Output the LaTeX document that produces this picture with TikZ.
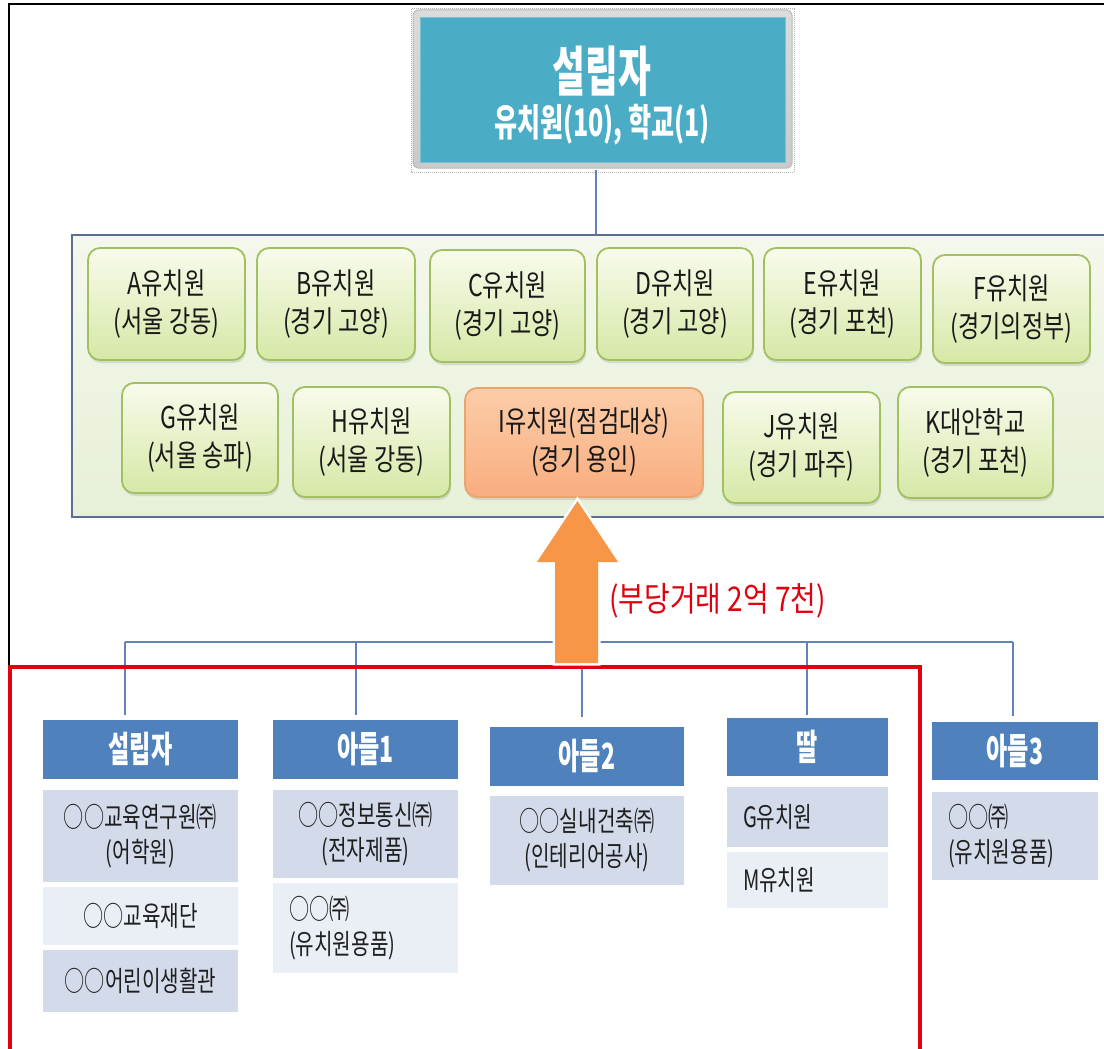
\documentclass[tikz,border=0pt]{standalone}
\usepackage{fontspec}
\usetikzlibrary{shadows}
\newfontfamily\kr[FakeStretch=0.77]{Noto Sans CJK KR}
\newfontfamily\krl[FakeStretch=0.82]{Noto Sans CJK KR}
\newfontfamily\krn[FakeStretch=0.72]{Noto Sans CJK KR}
\newfontfamily\krh[FakeStretch=0.64]{Noto Sans CJK KR}
\newfontfamily\krt[FakeStretch=0.66]{Noto Sans CJK KR}
\definecolor{tblue}{HTML}{4BACC6}
\definecolor{gborder}{HTML}{A2C062}
\definecolor{gtop}{HTML}{F8FBEC}
\definecolor{gbot}{HTML}{D6E8A6}
\definecolor{oborder}{HTML}{E8A56E}
\definecolor{otop}{HTML}{FCCDA8}
\definecolor{obot}{HTML}{F8AD7F}
\definecolor{arrowc}{HTML}{F79646}
\definecolor{hblue}{HTML}{4F81BD}
\definecolor{rowdark}{HTML}{D3DAEA}
\definecolor{rowlight}{HTML}{EAEEF5}
\definecolor{conc}{HTML}{6282B8}
\definecolor{contborder}{HTML}{5A6F93}
\definecolor{ctop}{HTML}{F4F8EC}
\definecolor{cbot}{HTML}{E7F0D8}
\definecolor{redc}{HTML}{E0000F}
\tikzset{
  gnode/.style={draw=gborder, line width=1.8pt, rounded corners=12pt,
    top color=gtop, bottom color=gbot,
    drop shadow={opacity=0.22, shadow xshift=1pt, shadow yshift=-3pt},
    font=\kr\fontsize{30}{38}\selectfont, align=center, inner sep=0pt, text=black!90},
  onode/.style={gnode, draw=oborder, top color=otop, bottom color=obot},
  hdr/.style={fill=hblue, text=white, font=\krh\bfseries\fontsize{36}{40}\selectfont, inner sep=0pt},
  rdark/.style={fill=rowdark, font=\krn\fontsize{28}{35}\selectfont, align=center, inner sep=0pt, text=black!88},
  rlight/.style={rdark, fill=rowlight},
  lft/.style={inner xsep=16pt, text width=#1, align=left},
  conn/.style={draw=conc, line width=2.5pt},
}
\begin{document}
\begin{tikzpicture}[x=1pt,y=-1pt]
\useasboundingbox (0,0) rectangle (1104,1049);
\fill[white] (0,0) rectangle (1104,1049);
% outer black frame
\draw[line width=2.5pt] (9,667) -- (9,4) -- (1110,4);
% top box
\draw[gray!60, densely dotted, line width=1pt] (411,9) rectangle (794,172);
\node[draw=gray!55, line width=1pt, rounded corners=5pt, top color=gray!28, bottom color=gray!42,
  minimum width=379, minimum height=158] (topo) at (602.5,89) {};
\node[fill=tblue, draw=tblue!75!white, line width=1pt, minimum width=365, minimum height=144] (topi) at (602.5,90) {};
\node[text=white, font=\krt\bfseries\fontsize{54}{58}\selectfont] (tt1) at (602,71) {설립자};
\node[text=white, font=\krt\bfseries\fontsize{38}{42}\selectfont] (tt2) at (602,125) {유치원(10), 학교(1)};
% container
\node[draw=contborder, line width=2.5pt, top color=ctop, bottom color=cbot, inner sep=0pt,
  minimum width=1046, minimum height=282] (cont) at (595,376) {};
\coordinate (tc) at (596,170);
\draw[conn] (tc) -- (tc |- cont.north);
% row 1
\node[gnode, minimum width=157, minimum height=112] (A) at (166.5,304) {A유치원\\(서울 강동)};
\node[gnode, minimum width=158, minimum height=112] (B) at (336,304) {B유치원\\(경기 고양)};
\node[gnode, minimum width=155, minimum height=112] (C) at (507.5,306) {C유치원\\(경기 고양)};
\node[gnode, minimum width=156, minimum height=112] (D) at (675,304) {D유치원\\(경기 고양)};
\node[gnode, minimum width=157, minimum height=112] (E) at (842.5,304) {E유치원\\(경기 포천)};
\node[gnode, minimum width=157, minimum height=108] (F) at (1011.5,309) {F유치원\\(경기의정부)};
% row 2
\node[gnode, minimum width=156, minimum height=110] (G) at (200,438) {G유치원\\(서울 송파)};
\node[gnode, minimum width=157, minimum height=110] (H) at (371.5,442) {H유치원\\(서울 강동)};
\node[onode, minimum width=238, minimum height=109] (I) at (584,442.5) {I유치원(점검대상)\\(경기 용인)};
\node[gnode, minimum width=157, minimum height=111] (J) at (801.5,447.5) {J유치원\\(경기 파주)};
\node[gnode, minimum width=155, minimum height=111] (K) at (975.5,442.5) {K대안학교\\(경기 포천)};
% lower headers
\node[hdr, minimum width=195, minimum height=59] (h1) at (140.5,749.5) {설립자};
\node[hdr, minimum width=185, minimum height=59] (h2) at (365.5,749.5) {아들1};
\node[hdr, minimum width=194, minimum height=59] (h3) at (587,756.5) {아들2};
\node[hdr, minimum width=161, minimum height=58] (h4) at (807.5,747) {딸};
\node[hdr, minimum width=166, minimum height=58] (h5) at (1015,751) {아들3};
% rows
\node[rdark, minimum width=195, minimum height=92] (r11) at (140.5,836) {○○교육연구원㈜\\(어학원)};
\node[rlight, minimum width=195, minimum height=58] (r12) at (140.5,916) {○○교육재단};
\node[rdark, minimum width=195, minimum height=62] (r13) at (140.5,981) {○○어린이생활관};
\node[rdark, minimum width=185, minimum height=88] (r21) at (365.5,834) {○○정보통신㈜\\(전자제품)};
\node[rlight, lft=153pt, minimum width=185, minimum height=90] (r22) at (365.5,928) {○○㈜\\(유치원용품)};
\node[rdark, minimum width=194, minimum height=89] (r31) at (587,840.5) {○○실내건축㈜\\(인테리어공사)};
\node[rdark, lft=129pt, minimum width=161, minimum height=60] (r41) at (807.5,817) {G유치원};
\node[rlight, lft=129pt, minimum width=161, minimum height=56] (r42) at (807.5,880) {M유치원};
\node[rdark, lft=134pt, minimum width=166, minimum height=88] (r51) at (1015,836) {○○㈜\\(유치원용품)};
% bus connectors
\coordinate (d1) at (125,642);
\coordinate (d2) at (356,642);
\coordinate (d3) at (582,642);
\coordinate (d4) at (807,642);
\coordinate (d5) at (1013,642);
\draw[conn] (d1) -- (d5);
\draw[conn, shorten >=5pt] (d1) -- (d1 |- h1.north);
\draw[conn, shorten >=5pt] (d2) -- (d2 |- h2.north);
\draw[conn, shorten >=10pt] (d3) -- (d3 |- h3.north);
\draw[conn, shorten >=3pt] (d4) -- (d4 |- h4.north);
\draw[conn, shorten >=6pt] (d5) -- (d5 |- h5.north);
% red box
\draw[redc, line width=4pt] (10,1052) -- (10,667) -- (920,667) -- (920,1052) -- cycle;
% arrow
\filldraw[fill=arrowc, draw=white, line width=5pt, line join=miter]
  (555,663) -- (555,562) -- (537,562) -- (577.5,501) -- (618,562) -- (598,562) -- (598,663) -- cycle;
\fill[arrowc] (555,663) -- (555,562) -- (537,562) -- (577.5,501) -- (618,562) -- (598,562) -- (598,663) -- cycle;
\node[text=redc, font=\krl\fontsize{34}{38}\selectfont, anchor=west] (lbl) at (606,601) {(부당거래 2억 7천)};
\end{tikzpicture}
\end{document}
